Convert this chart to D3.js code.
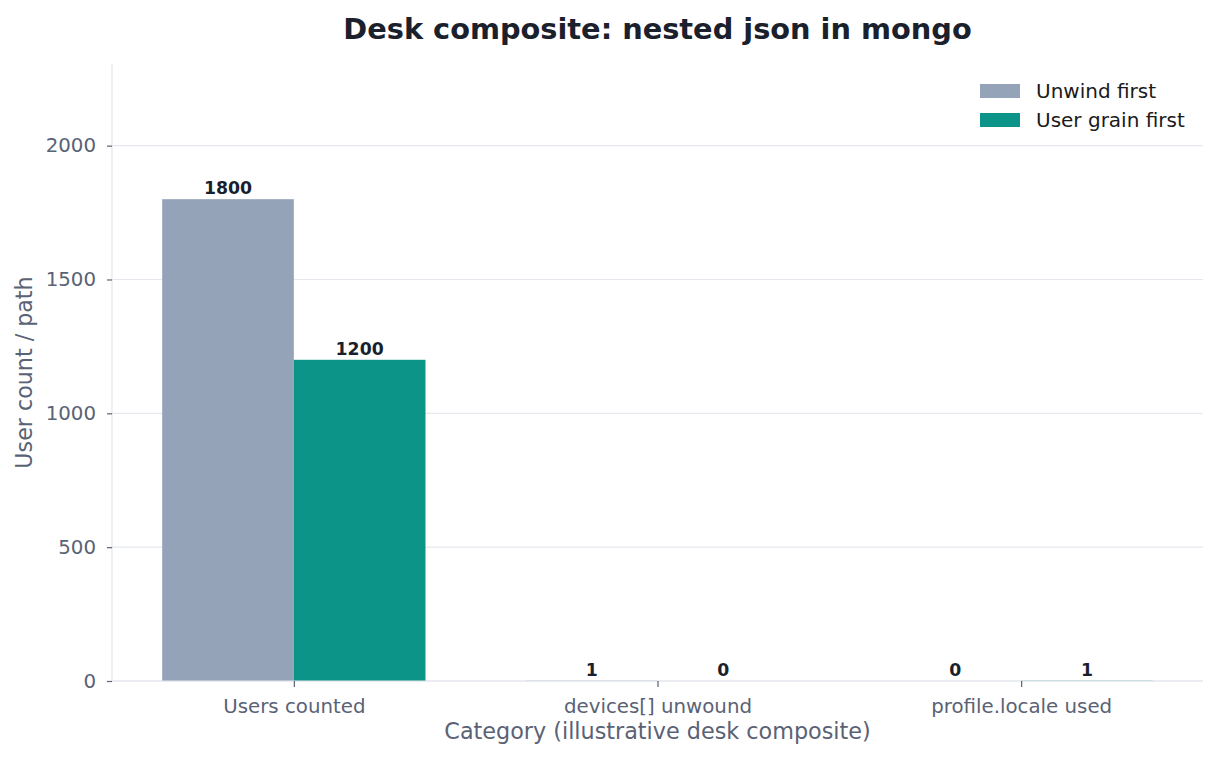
<!DOCTYPE html>
<html>
<head>
  <script src="https://cdnjs.cloudflare.com/ajax/libs/d3/7.0.0/d3.min.js"></script>
  <style>
    body { margin: 0; background: #fff; }
    text { font-family: "DejaVu Sans", sans-serif; }
  </style>
</head>
<body>
  <div id="chart"></div>

  <script>
    var categories = ["Users counted", "devices[] unwound", "profile.locale used"];
    var seriesNames = ["Unwind first", "User grain first"];
    var unwindFirst = [1800, 1, 0];
    var userGrainFirst = [1200, 0, 1];
    var yTicks = [0, 500, 1000, 1500, 2000];
    var colors = ["#94a3b8", "#0d9488"];

    var W = 1219, H = 760;
    var margin = { top: 64, right: 16, bottom: 79, left: 112 };
    var width = W - margin.left - margin.right;
    var height = H - margin.top - margin.bottom;

    var svg = d3.select("#chart")
      .append("svg")
      .attr("width", W)
      .attr("height", H);

    var g = svg.append("g")
      .attr("transform", "translate(" + margin.left + "," + margin.top + ")");

    var x = d3.scaleLinear().domain([-0.5, categories.length - 0.5]).range([0, width]);
    var y = d3.scaleLinear().domain([0, 2305]).range([height, 0]);
    var barW = 0.362;

    // grid
    g.selectAll(".grid")
      .data(yTicks)
      .enter().append("line")
      .attr("x1", 0).attr("x2", width)
      .attr("y1", d => y(d)).attr("y2", d => y(d))
      .attr("stroke", "#e5e8ee")
      .attr("stroke-width", 1.2);

    var series = [unwindFirst, userGrainFirst];
    series.forEach(function (vals, s) {
      var off = s === 0 ? -barW : 0;
      g.selectAll(".bar" + s)
        .data(vals)
        .enter().append("rect")
        .attr("x", (d, i) => x(i + off))
        .attr("width", x(barW) - x(0))
        .attr("y", d => y(d))
        .attr("height", d => y(0) - y(d))
        .attr("fill", colors[s]);

      g.selectAll(".lbl" + s)
        .data(vals)
        .enter().append("text")
        .attr("x", (d, i) => x(i + off + barW / 2))
        .attr("y", d => y(d) - 5)
        .attr("text-anchor", "middle")
        .attr("font-size", 17.3)
        .attr("font-weight", "bold")
        .attr("fill", "#1a1f2e")
        .text(d => d);
    });

    // spines
    g.append("line")
      .attr("x1", 0).attr("x2", 0).attr("y1", 0).attr("y2", height)
      .attr("stroke", "#e2e6ec").attr("stroke-width", 1.2);
    g.append("line")
      .attr("x1", 0).attr("x2", width).attr("y1", height).attr("y2", height)
      .attr("stroke", "#e2e6ec").attr("stroke-width", 1.2);

    // y axis
    var yAxis = g.append("g")
      .call(d3.axisLeft(y).tickValues(yTicks).tickFormat(d3.format("d"))
        .tickSize(5).tickPadding(11));
    yAxis.select(".domain").remove();
    yAxis.selectAll("line").attr("stroke", "#5a6275").attr("stroke-width", 1.2);
    yAxis.selectAll("text")
      .attr("fill", "#5a6275")
      .attr("font-size", 19.8);

    // x axis
    var xAxis = g.append("g")
      .attr("transform", "translate(0," + height + ")")
      .call(d3.axisBottom(x).tickValues(d3.range(categories.length))
        .tickFormat((d, i) => categories[i]).tickSize(6));
    xAxis.select(".domain").remove();
    xAxis.selectAll("line").attr("stroke", "#5a6275").attr("stroke-width", 1.2);
    xAxis.selectAll("text")
      .attr("y", 32)
      .attr("dy", 0)
      .attr("fill", "#5a6275")
      .attr("font-size", 19.8);

    // axis labels
    svg.append("text")
      .attr("transform", "translate(32," + (margin.top + height / 2) + ") rotate(-90)")
      .attr("text-anchor", "middle")
      .attr("font-size", 22.2)
      .attr("fill", "#5a6275")
      .text("User count / path");

    svg.append("text")
      .attr("x", margin.left + width / 2)
      .attr("y", 739)
      .attr("text-anchor", "middle")
      .attr("font-size", 22.3)
      .attr("fill", "#5a6275")
      .text("Category (illustrative desk composite)");

    // title
    svg.append("text")
      .attr("x", margin.left + width / 2)
      .attr("y", 38.5)
      .attr("text-anchor", "middle")
      .attr("font-size", 28.8)
      .attr("font-weight", "bold")
      .attr("fill", "#1a202c")
      .text("Desk composite: nested json in mongo");

    // legend
    var leg = svg.append("g").attr("transform", "translate(980,84)");
    seriesNames.forEach(function (name, i) {
      leg.append("rect")
        .attr("x", 0).attr("y", i * 29)
        .attr("width", 40).attr("height", 14)
        .attr("fill", colors[i]);
      leg.append("text")
        .attr("x", 56).attr("y", i * 29 + 14)
        .attr("font-size", 20)
        .attr("fill", "#1a1a1a")
        .text(name);
    });
  </script>
</body>
</html>
